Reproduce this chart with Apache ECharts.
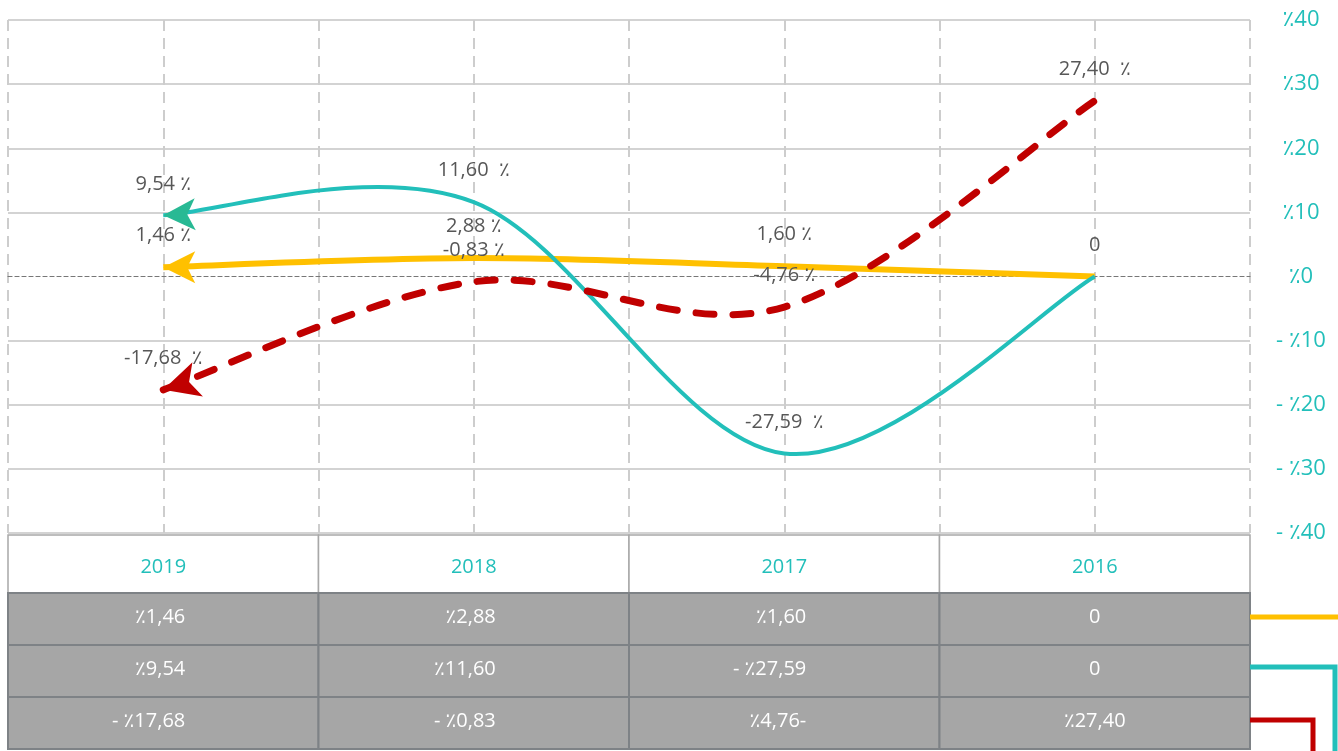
<!DOCTYPE html>
<html><head><meta charset="utf-8">
<script src="https://cdn.jsdelivr.net/npm/echarts@6/dist/echarts.min.js"></script>
<style>html,body{margin:0;padding:0;background:#fff}#c{width:1338px;height:751px}</style>
</head><body><div id="c"></div>
<script>
const categories = ['2019', '2018', '2017', '2016'];
const yellowValues = [1.46, 2.88, 1.60, 0];
const tealValues = [9.54, 11.60, -27.59, 0];
const redValues = [-17.68, -0.83, -4.76, 27.40];
const yellowRowText = ['٪1,46', '٪2,88', '٪1,60', '0'];
const tealRowText = ['٪9,54', '٪11,60', '- ٪27,59', '0'];
const redRowText = ['- ٪17,68', '- ٪0,83', '٪4,76-', '٪27,40'];

const YELLOW = '#ffc000', TEAL = '#22bfba', RED = '#c00000';
const FONT = '"Open Sans", "Noto Sans", "DejaVu Sans", sans-serif';

const chart = echarts.init(document.getElementById('c'), null, {renderer: 'canvas'});

function fmtValue(v) {
  if (v === 0) return '0';
  return v.toFixed(2).replace('.', ',') + (Math.abs(v) >= 10 ? '  ٪' : ' ٪');
}
function toData(vals) { return vals.map((v, i) => [i, v]); }

// smooth curve (cardinal / Catmull-Rom bezier) through the points, via the axes' scales
function curveSeries(vals, color, width, dash, cap, z) {
  return {
    type: 'custom', z, silent: true, animation: false, clip: false,
    data: toData(vals),
    renderItem: (params, api) => {
      if (params.dataIndex !== 0) return null;
      const pts = vals.map((v, i) => api.coord([i, v]));
      const n = pts.length;
      let d = 'M' + pts[0][0] + ' ' + pts[0][1];
      for (let i = 0; i < n - 1; i++) {
        const p0 = pts[Math.max(i - 1, 0)], p1 = pts[i], p2 = pts[i + 1], p3 = pts[Math.min(i + 2, n - 1)];
        const c1 = [p1[0] + (p2[0] - p0[0]) / 6, p1[1] + (p2[1] - p0[1]) / 6];
        const c2 = [p2[0] - (p3[0] - p1[0]) / 6, p2[1] - (p3[1] - p1[1]) / 6];
        d += ' C' + c1[0] + ' ' + c1[1] + ' ' + c2[0] + ' ' + c2[1] + ' ' + p2[0] + ' ' + p2[1];
      }
      return {type: 'path', shape: {pathData: d},
        style: {stroke: color, lineWidth: width, fill: 'none', lineDash: dash, lineCap: cap, lineJoin: 'round'}};
    }
  };
}
// point labels; a label identical to one already drawn at the same point is skipped
function labelSeries(vals, z, drawnBefore) {
  return {
    type: 'scatter', z, silent: true,
    data: vals.map((v, i) => ({
      value: [i, v],
      label: {show: !drawnBefore.some(o => o[i] === v)}
    })),
    symbol: 'circle', symbolSize: 1, itemStyle: {color: 'rgba(0,0,0,0)', opacity: 1},
    label: {show: true, position: 'top', distance: 21, color: '#575757', fontSize: 20, fontFamily: FONT,
      formatter: p => fmtValue(p.value[1])},
    emphasis: {disabled: true}, animation: false
  };
}
function arrowSeries(vals, color, rot, size, z) {
  return {
    type: 'scatter', z, silent: true, data: [[0, vals[0]]],
    symbol: 'arrow', symbolSize: size, symbolRotate: rot,
    itemStyle: {color, opacity: 1}, emphasis: {disabled: true}, animation: false
  };
}

const splitColors = [];
for (let v = -40; v <= 40; v += 10) splitColors.push(v === 0 ? 'rgba(0,0,0,0)' : '#c4c4c4');

chart.setOption({
  backgroundColor: '#fff',
  animation: false,
  grid: {left: 8, right: 88, top: 20, bottom: 218},
  xAxis: {
    type: 'value', min: -0.5, max: 3.5, interval: 0.5,
    axisLabel: {show: false}, axisTick: {show: false},
    axisLine: {show: true, onZero: true, lineStyle: {color: '#777', width: 1.2, type: [4, 3]}},
    splitLine: {show: true, lineStyle: {color: '#cdcdcd', width: 2, type: [11, 7]}}
  },
  yAxis: {
    type: 'value', position: 'right', min: -40, max: 40, interval: 10,
    axisLine: {show: false}, axisTick: {show: false},
    splitLine: {show: true, lineStyle: {color: splitColors, width: 1.5}},
    axisLabel: {
      align: 'center', margin: 51, color: TEAL, fontSize: 22, fontFamily: FONT,
      formatter: v => v >= 0 ? '٪' + v : '- ٪' + Math.abs(v)
    }
  },
  series: [
    curveSeries(yellowValues, YELLOW, 6, null, 'butt', 3),
    curveSeries(tealValues, TEAL, 4, null, 'butt', 4),
    curveSeries(redValues, RED, 7, [18, 19], 'round', 5),
    arrowSeries(yellowValues, YELLOW, 90, [24, 32], 6),
    arrowSeries(tealValues, '#28b994', 92, [24, 32], 6),
    arrowSeries(redValues, RED, 107, [27, 36], 6),
    labelSeries(yellowValues, 7, []),
    labelSeries(tealValues, 7, [yellowValues]),
    labelSeries(redValues, 7, [yellowValues, tealValues])
  ]
});

// table below the chart, drawn with ECharts graphics, columns from the x axis
const edges = [];
for (let i = 0; i <= categories.length; i++) edges.push(chart.convertToPixel({xAxisIndex: 0}, i - 0.5));
const tableTop = chart.convertToPixel({yAxisIndex: 0}, -40) + 2;
const headerH = 58, rowH = 52;
const graphics = [];
const rows = [yellowRowText, tealRowText, redRowText];
for (let c = 0; c < categories.length; c++) {
  const x0 = edges[c], w = edges[c + 1] - edges[c];
  const last = c === categories.length - 1;
  graphics.push({type: 'rect', z: 10, shape: {x: x0, y: tableTop, width: w, height: headerH},
    style: {fill: '#fff', stroke: '#a8a8a8', lineWidth: 1.5}});
  graphics.push({type: 'text', z: 11, x: x0 + w / 2, y: tableTop + headerH / 2 + 3,
    style: {text: categories[c], fill: TEAL, fontSize: 20, fontFamily: FONT, align: 'center', verticalAlign: 'middle'}});
  rows.forEach((r, k) => {
    const y0 = tableTop + headerH + k * rowH;
    graphics.push({type: 'rect', z: 10, shape: {x: x0, y: y0, width: w, height: rowH},
      style: {fill: '#a6a6a6', stroke: '#7e8286', lineWidth: 2}});
    graphics.push({type: 'text', z: 11, x: last ? x0 + w / 2 : x0 + w / 2 + 22, y: y0 + rowH / 2 - 2,
      style: {text: r[c], fill: '#fff', fontSize: 20, fontFamily: FONT, align: last ? 'center' : 'right', verticalAlign: 'middle'}});
  });
}
const right = edges[edges.length - 1];
const rowMid = k => tableTop + headerH + k * rowH + rowH / 2;
graphics.push({type: 'polyline', z: 12, shape: {points: [[right, rowMid(0) - 2], [1338, rowMid(0) - 2]]},
  style: {stroke: YELLOW, lineWidth: 5, fill: null}});
graphics.push({type: 'polyline', z: 12, shape: {points: [[right, rowMid(1) - 4], [1335, rowMid(1) - 4], [1335, 760]]},
  style: {stroke: TEAL, lineWidth: 5, fill: null}});
graphics.push({type: 'polyline', z: 12, shape: {points: [[right, rowMid(2) - 3], [1313, rowMid(2) - 3], [1313, 760]]},
  style: {stroke: RED, lineWidth: 5, fill: null}});
chart.setOption({graphic: graphics});
</script></body></html>
